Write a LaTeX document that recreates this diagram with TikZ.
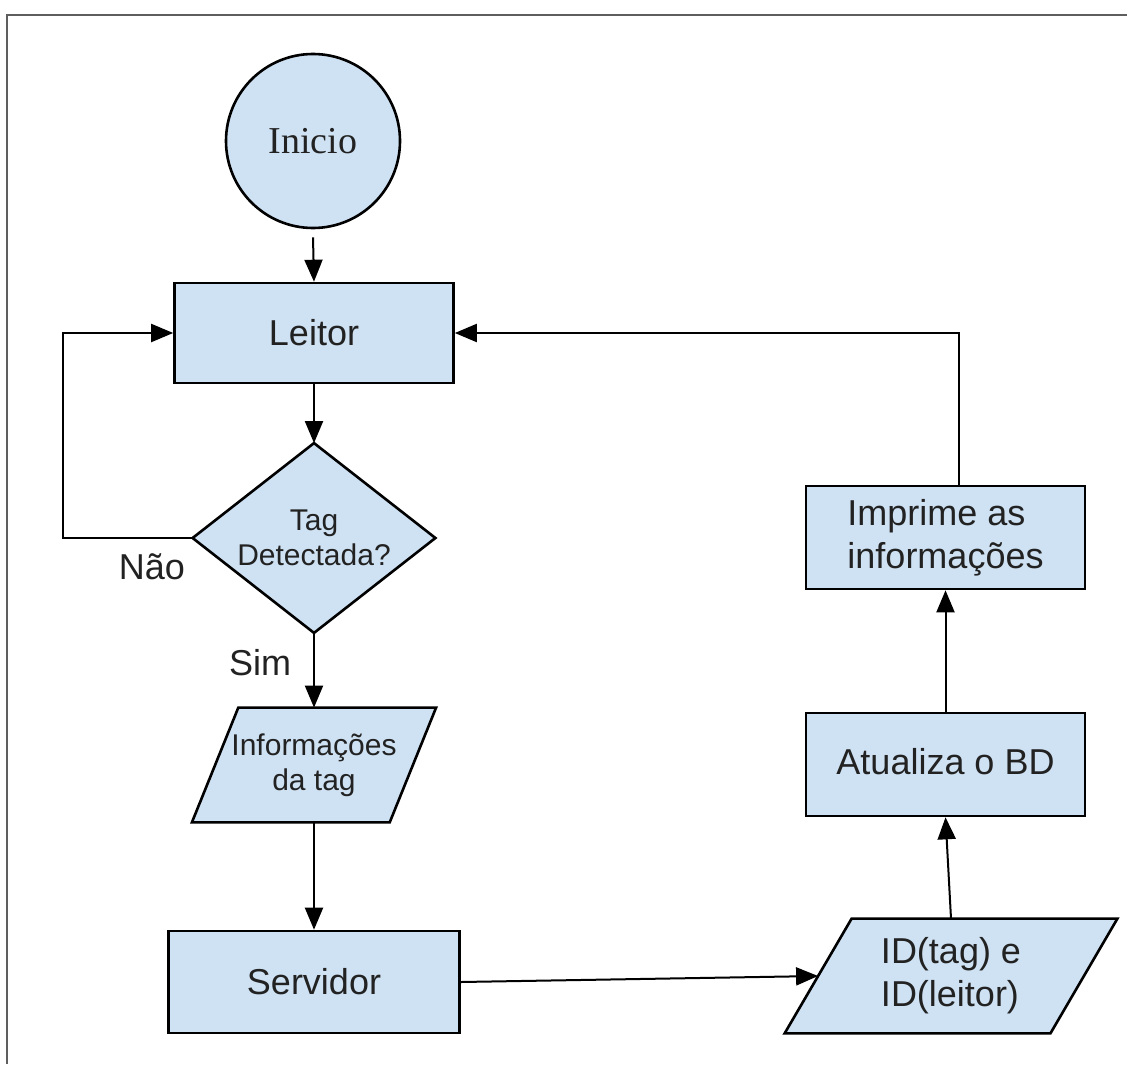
\documentclass[tikz,border=0pt]{standalone}
\usepackage{fontspec}
\setmainfont{Liberation Sans}
\newfontfamily\serifface{Liberation Serif}
\usetikzlibrary{arrows.meta,backgrounds}
\definecolor{boxfill}{HTML}{CFE2F3}
\definecolor{txt}{HTML}{222222}
\definecolor{framegray}{HTML}{5E5E5E}
\begin{document}
\begin{tikzpicture}[x=0.5pt,y=-0.5pt,
  big/.style={font=\fontsize{18}{21.5}\selectfont},
  small/.style={font=\fontsize{15}{17.5}\selectfont},
  box/.style={draw=black, fill=boxfill, line width=1.3pt, text=txt, inner sep=0pt, big},
  bare/.style={inner sep=0pt, text=txt},
  outline/.style={draw=black, fill=boxfill, line width=1.3pt, line join=miter},
  conn/.style={line width=1pt, -{Triangle[length=11pt,width=9pt]}},
  lbl/.style={text=txt, inner sep=0pt, big}]
\useasboundingbox (0,0) rectangle (1127,1064);
\coordinate (fbl) at (7,1064);
\coordinate (ftl) at (7,15);
\coordinate (ftr) at (1127,15);
\draw[framegray, line width=1pt] (fbl) -- (ftl) -- (ftr);

\node[circle, outline, minimum size=87pt, inner sep=0pt, text=txt,
      font=\serifface\fontsize{19}{22}\selectfont] (inicio) at (313,141) {Inicio};
\node[box, minimum width=139.5pt, minimum height=50pt] (leitor) at (314,333) {Leitor};
\node[bare, small, minimum width=121pt, minimum height=94.5pt, align=center] (dec) at (314,538) {Tag\\Detectada?};
\node[bare, small, minimum width=98.5pt, minimum height=57pt, align=center] (info) at (314,765) {Informações\\da tag};
\node[box, minimum width=145.5pt, minimum height=51pt] (serv) at (314,982) {Servidor};
\node[bare, big, minimum width=132.5pt, minimum height=57pt, align=left] (id) at (951,976) {ID(tag) e\\ID(leitor)};
\node[box, minimum width=139.5pt, minimum height=51.5pt] (atual) at (945.5,764.5) {\raisebox{3.5pt}{Atualiza o BD}};
\node[box, minimum width=139.5pt, minimum height=51.5pt, align=left] (impr) at (945.5,537.5) {Imprime as\\informações};

\begin{scope}[on background layer]
\draw[outline] (dec.north) -- (dec.east) -- (dec.south) -- (dec.west) -- cycle;
\draw[outline] ([xshift=11.6pt]info.north west) -- ([xshift=11.6pt]info.north east)
   -- ([xshift=-11.6pt]info.south east) -- ([xshift=-11.6pt]info.south west) -- cycle;
\draw[outline] ([xshift=16.75pt]id.north west) -- ([xshift=16.75pt]id.north east)
   -- ([xshift=-16.75pt]id.south east) -- ([xshift=-16.75pt]id.south west) -- cycle;
\end{scope}

\node[lbl] (nao) at (152,567) {Não};
\node[lbl] (sim) at (260,663) {Sim};

\coordinate (loopc) at (63,538);
\draw[conn] ([yshift=-4pt]inicio.south) -- (leitor.north);
\draw[conn] (leitor.south) -- (dec.north);
\draw[conn] (dec.west) -- (loopc) |- (leitor.west);
\draw[conn] (dec.south) -- (info.north);
\draw[conn] (info.south) -- (serv.north);
\draw[conn] (serv.east) -- (id.west);
\draw[conn] (id.north) -- (atual.south);
\draw[conn] (atual.north) -- (impr.south);
\draw[conn] ([xshift=6.5pt]impr.north) |- (leitor.east);
\end{tikzpicture}
\end{document}
